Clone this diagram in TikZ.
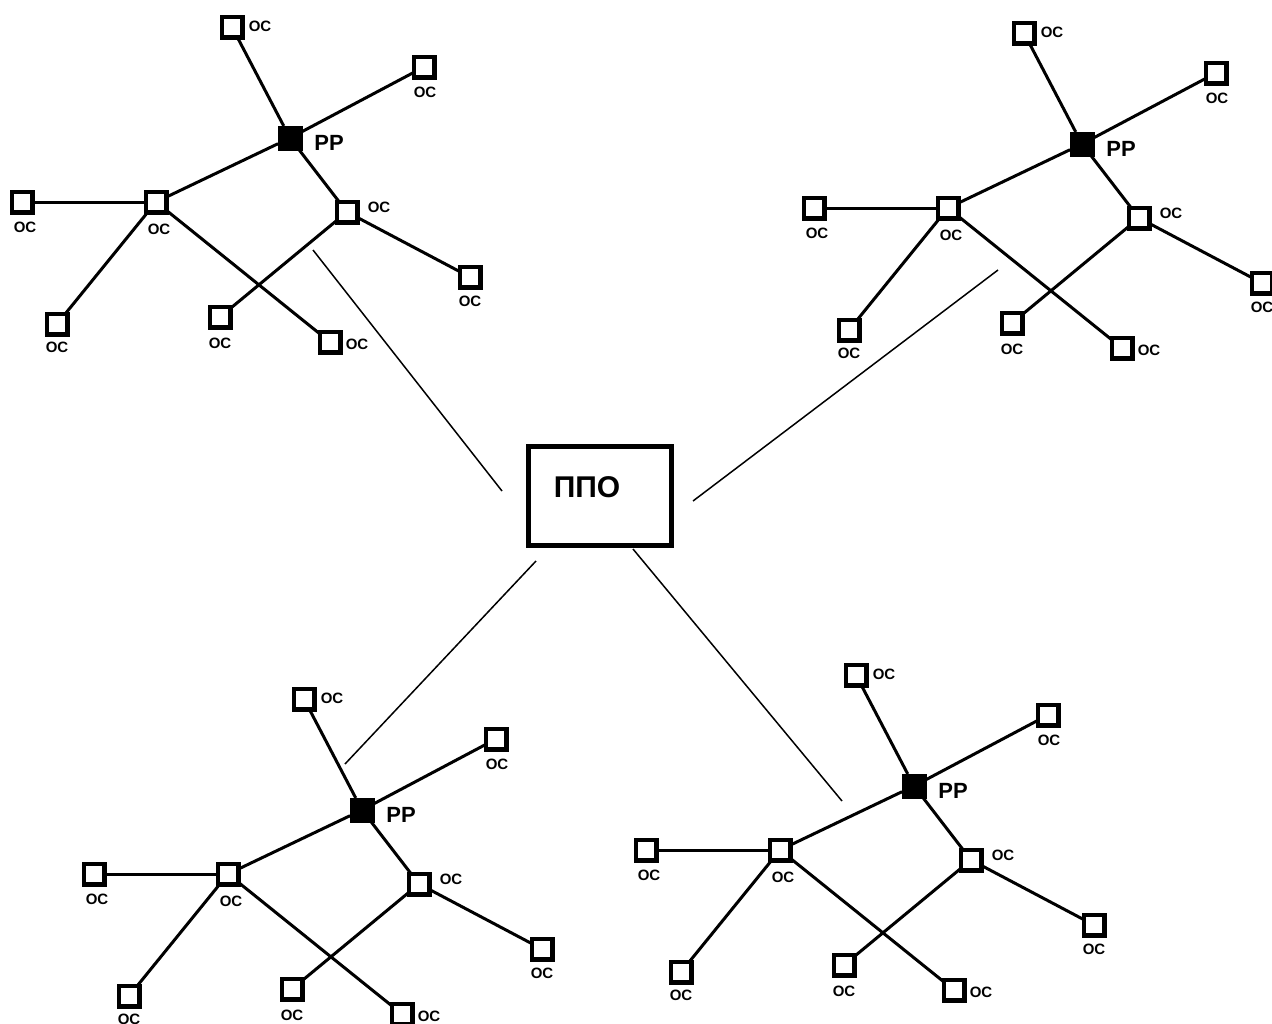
\documentclass[tikz,border=0pt]{standalone}
\usepackage{fontspec}
\setmainfont{Liberation Sans}
\begin{document}
\begin{tikzpicture}[x=1pt,y=-1pt,
  os/.style={draw=black,line width=4.5pt,fill=white,minimum size=20.5pt,inner sep=0pt,outer sep=0pt},
  rr/.style={draw=black,line width=1pt,fill=black,minimum size=24pt,inner sep=0pt,outer sep=0pt},
  lbl/.style={font=\bfseries\fontsize{15}{15}\selectfont,inner sep=0pt},
  rrlbl/.style={font=\bfseries\fontsize{22}{22}\selectfont,inner sep=0pt},
  link/.style={line width=3pt},
  trunk/.style={line width=1.5pt},
  hub/.style={draw=black,line width=5pt,fill=white,minimum width=143pt,minimum height=99pt,inner sep=0pt}]
\clip (0,0) rectangle (1272,1023);
\fill[white] (0,0) rectangle (1272,1023);

% central office
\node[hub] (ppo) at (600,496) {};
\node[font=\bfseries\fontsize{30}{30}\selectfont,inner sep=0pt] (ppotxt) at (587,487) {ППО};

% four identical subscriber clusters
\foreach \p/\dx/\dy in {a/0/0, b/792/6, c/72/672, d/624/648} {
  \begin{scope}[shift={(\dx,\dy)}]
    \node[rr] (\p-rr) at (290,138) {};
    \node[os] (\p-top) at (232,27) {};
    \node[os] (\p-ur) at (424,67) {};
    \node[os] (\p-hl) at (156,202) {};
    \node[os] (\p-l) at (22,202) {};
    \node[os] (\p-hr) at (347,212) {};
    \node[os] (\p-fr) at (470,277) {};
    \node[os] (\p-bl) at (57,324) {};
    \node[os] (\p-bm) at (220,317) {};
    \node[os] (\p-br) at (330,342) {};
    \draw[link] (\p-rr) -- (\p-top);
    \draw[link] (\p-rr) -- (\p-ur);
    \draw[link] (\p-rr) -- (\p-hl);
    \draw[link] (\p-rr) -- (\p-hr);
    \draw[link] (\p-hl) -- (\p-l);
    \draw[link] (\p-hl) -- (\p-bl);
    \draw[link] (\p-hl) -- (\p-br);
    \draw[link] (\p-hr) -- (\p-fr);
    \draw[link] (\p-hr) -- (\p-bm);
    \node[rrlbl] (\p-rrt) at (329,143) {РР};
    \node[lbl] (\p-topt) at (260,26) {ОС};
    \node[lbl] (\p-urt) at (425,92) {ОС};
    \node[lbl] (\p-lt) at (25,227) {ОС};
    \node[lbl] (\p-hlt) at (159,229) {ОС};
    \node[lbl] (\p-hrt) at (379,207) {ОС};
    \node[lbl] (\p-frt) at (470,301) {ОС};
    \node[lbl] (\p-blt) at (57,347) {ОС};
    \node[lbl] (\p-bmt) at (220,343) {ОС};
    \node[lbl] (\p-brt) at (357,344) {ОС};
  \end{scope}
}

% trunk lines towards the central office
\coordinate (ta1) at (313,250);  \coordinate (ta2) at (502,491);
\coordinate (tb1) at (998,270);  \coordinate (tb2) at (693,501);
\coordinate (tc1) at (345,764);  \coordinate (tc2) at (536,561);
\coordinate (td1) at (842,801);  \coordinate (td2) at (633,549);
\draw[trunk] (ta1) -- (ta2);
\draw[trunk] (tb1) -- (tb2);
\draw[trunk] (tc1) -- (tc2);
\draw[trunk] (td1) -- (td2);
\end{tikzpicture}
\end{document}
